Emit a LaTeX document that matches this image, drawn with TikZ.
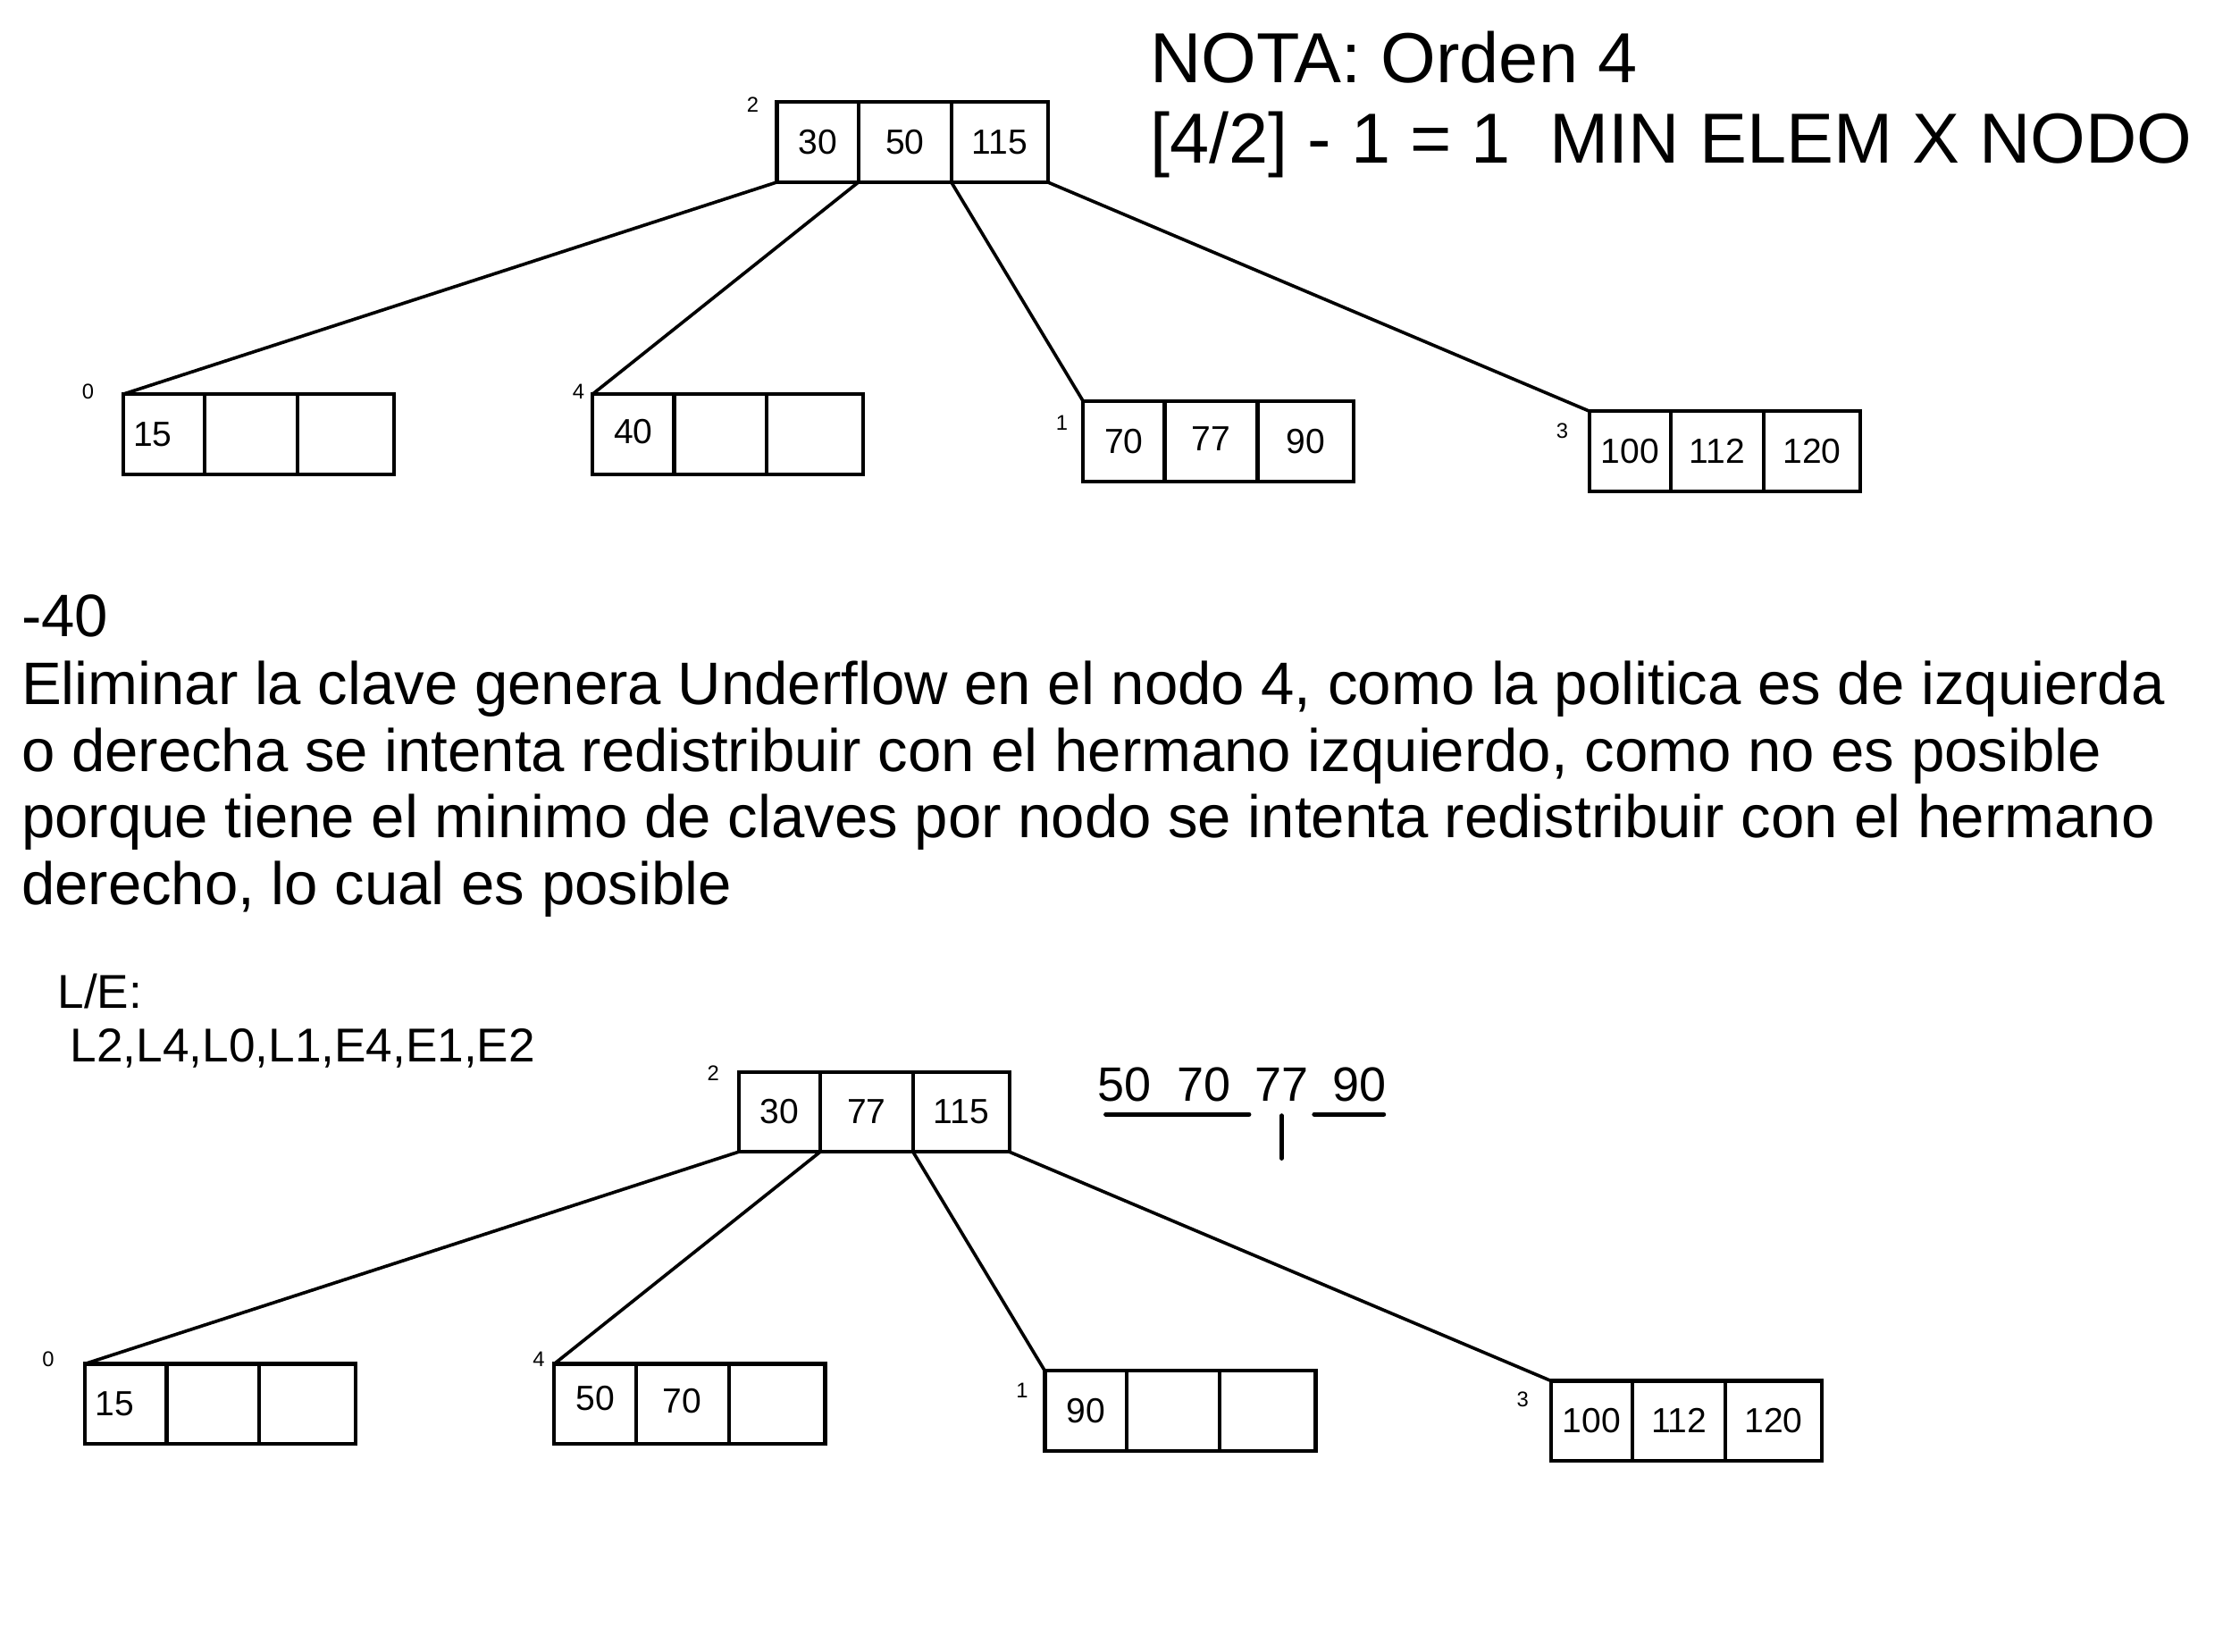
\documentclass[tikz,border=0pt]{standalone}
\usepackage{fontspec}
\setmainfont{Liberation Sans}
\usetikzlibrary{positioning}

\begin{document}
\begin{tikzpicture}[x=1pt,y=-1pt,
	celda/.style={draw,line width=2.6pt,outer sep=0pt,inner sep=0pt,
		minimum height=56.5pt,font=\fontsize{24.6}{28}\selectfont},
	celda a/.style={celda,minimum width=57.5pt},
	celda b/.style={celda,minimum width=65.5pt},
	celda c/.style={celda,minimum width=68pt},
	etiq/.style={inner sep=0pt,font=\fontsize{15}{17}\selectfont},
	texto/.style={anchor=base west,inner sep=0pt,font=\fontsize{42.3}{47}\selectfont},
	nota/.style={anchor=base west,inner sep=0pt,font=\fontsize{50}{57}\selectfont},
	chico/.style={anchor=base west,inner sep=0pt,font=\fontsize{33.5}{37}\selectfont},
	clave/.style={anchor=base,inner sep=0pt,font=\fontsize{34}{38}\selectfont},
	rama/.style={line width=2.3pt},
	raya/.style={line width=3.2pt,line cap=round}]

	\useasboundingbox (0,0) rectangle (1568,1165);

	% arbol antes de borrar
	\node[celda a,anchor=north west] (t2-1) at (548,72) {30};
	\node[celda b,right=0pt of t2-1] (t2-2) {50};
	\node[celda c,right=0pt of t2-2] (t2-3) {115};
	\node[celda a,anchor=north west] (t0-1) at (87,278) {\hspace*{-16pt}15};
	\node[celda b,right=0pt of t0-1] (t0-2) {};
	\node[celda c,right=0pt of t0-2] (t0-3) {};
	\node[celda a,anchor=north west] (t4-1) at (418,278) {\raisebox{4pt}{40}};
	\node[celda b,right=0pt of t4-1] (t4-2) {};
	\node[celda c,right=0pt of t4-2] (t4-3) {};
	\node[celda a,anchor=north west] (t1-1) at (764,283) {70};
	\node[celda b,right=0pt of t1-1] (t1-2) {\raisebox{4pt}{77}};
	\node[celda c,right=0pt of t1-2] (t1-3) {90};
	\node[celda a,anchor=north west] (t3-1) at (1121,290) {100};
	\node[celda b,right=0pt of t3-1] (t3-2) {112};
	\node[celda c,right=0pt of t3-2] (t3-3) {120};

	\node[etiq] (lt2) at ([shift={(-17,2)}]t2-1.north west) {2};
	\node[etiq] (lt0) at ([shift={(-25,-2)}]t0-1.north west) {0};
	\node[etiq] (lt4) at ([shift={(-10,-2)}]t4-1.north west) {4};
	\node[etiq] (lt1) at ([shift={(-15,15)}]t1-1.north west) {1};
	\node[etiq] (lt3) at ([shift={(-19,14)}]t3-1.north west) {3};

	\path[rama]
	(t2-1.south west) edge (t0-1.north west)
	(t2-1.south east) edge (t4-1.north west)
	(t2-2.south east) edge (t1-1.north west)
	(t2-3.south east) edge (t3-1.north west);

	% nota
	\node[nota] (nota1) at (811,58.6) {NOTA: Orden 4};
	\node[nota] (nota2) at (811,115) {[4/2] - 1 = 1\ \ MIN ELEM X NODO};

	% explicacion
	\node[texto] (p0) at (15,449) {-40};
	\node[texto] (p1) at (15,497) {Eliminar la clave genera Underflow en el nodo 4, como la politica es de izquierda};
	\node[texto] (p2) at (15,544) {o derecha se intenta redistribuir con el hermano izquierdo, como no es posible};
	\node[texto] (p3) at (15,591) {porque tiene el minimo de claves por nodo se intenta redistribuir con el hermano};
	\node[texto] (p4) at (15,638) {derecho, lo cual es posible};

	\node[chico] (le1) at (40.5,711.5) {L/E:};
	\node[chico] (le2) at (49.5,749) {L2,L4,L0,L1,E4,E1,E2};

	% redistribucion
	\node[clave] (k50) at (793,776.5) {50};
	\node[clave] (k70) at (849.5,776.5) {70};
	\node[clave] (k77) at (904,776.5) {77};
	\node[clave] (k90) at (959,776.5) {90};
	\coordinate (u1) at (780,786);
	\coordinate (u2) at (881,786);
	\coordinate (u3) at (904,787);
	\coordinate (u4) at (904,817);
	\coordinate (u5) at (927,786);
	\coordinate (u6) at (976,786);
	\draw[raya] (u1) -- (u2);
	\draw[raya] (u3) -- (u4);
	\draw[raya] (u5) -- (u6);

	% arbol despues de borrar
	\node[celda a,anchor=north west] (b2-1) at (521,756) {30};
	\node[celda b,right=0pt of b2-1] (b2-2) {77};
	\node[celda c,right=0pt of b2-2] (b2-3) {115};
	\node[celda a,anchor=north west] (b0-1) at (60,962) {\hspace*{-16pt}15};
	\node[celda b,right=0pt of b0-1] (b0-2) {};
	\node[celda c,right=0pt of b0-2] (b0-3) {};
	\node[celda a,anchor=north west] (b4-1) at (391,962) {\raisebox{8pt}{50}};
	\node[celda b,right=0pt of b4-1] (b4-2) {\raisebox{4pt}{70}};
	\node[celda c,right=0pt of b4-2] (b4-3) {};
	\node[celda a,anchor=north west] (b1-1) at (737,967) {90};
	\node[celda b,right=0pt of b1-1] (b1-2) {};
	\node[celda c,right=0pt of b1-2] (b1-3) {};
	\node[celda a,anchor=north west] (b3-1) at (1094,974) {100};
	\node[celda b,right=0pt of b3-1] (b3-2) {112};
	\node[celda c,right=0pt of b3-2] (b3-3) {120};

	\node[etiq] (lb2) at ([shift={(-18,1)}]b2-1.north west) {2};
	\node[etiq] (lb0) at ([shift={(-26,-3)}]b0-1.north west) {0};
	\node[etiq] (lb4) at ([shift={(-11,-3)}]b4-1.north west) {4};
	\node[etiq] (lb1) at ([shift={(-16,14)}]b1-1.north west) {1};
	\node[etiq] (lb3) at ([shift={(-20,13)}]b3-1.north west) {3};

	\path[rama]
	(b2-1.south west) edge (b0-1.north west)
	(b2-1.south east) edge (b4-1.north west)
	(b2-2.south east) edge (b1-1.north west)
	(b2-3.south east) edge (b3-1.north west);
\end{tikzpicture}
\end{document}
